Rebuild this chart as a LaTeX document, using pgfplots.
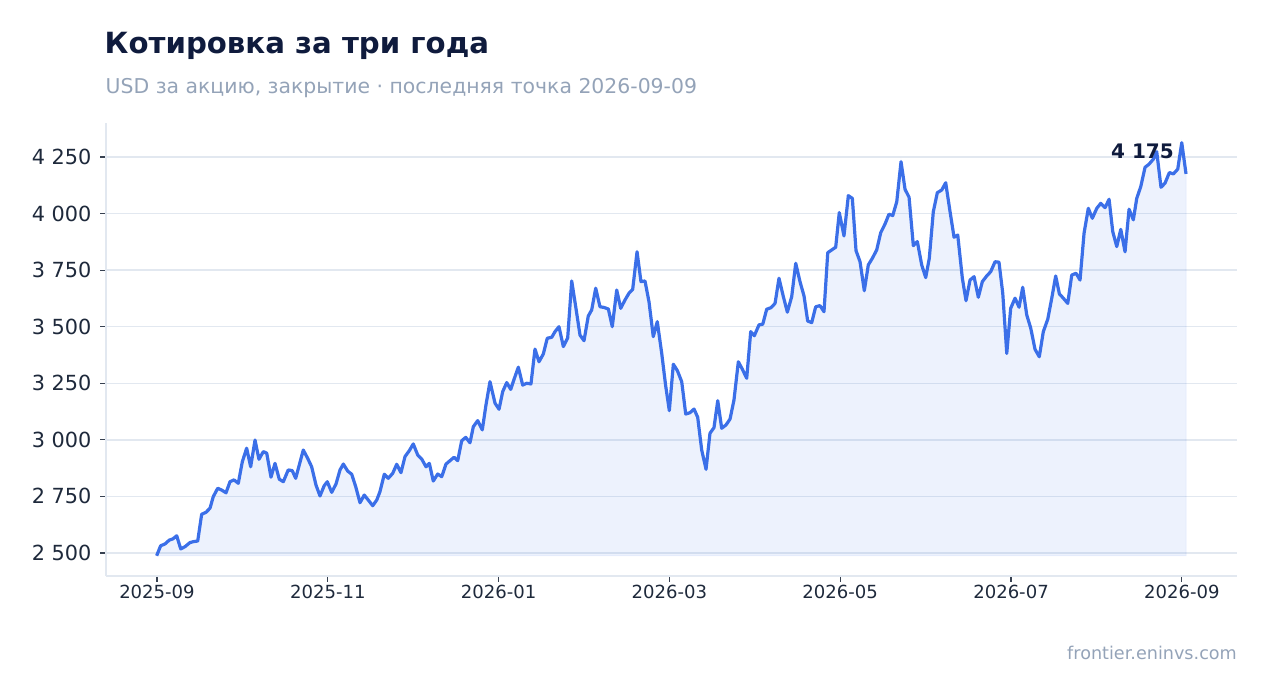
\documentclass[border=0pt]{standalone}
\usepackage{fontspec}
\setmainfont{DejaVu Sans}
\usepackage{pgfplots}
\usepackage{pgfplotstable}
\pgfplotsset{compat=1.18}

\definecolor{lineblue}{RGB}{59,111,232}
\definecolor{titlec}{RGB}{15,27,61}
\definecolor{subc}{RGB}{148,163,184}
\definecolor{gridc}{RGB}{226,232,240}
\definecolor{labelc}{RGB}{30,41,59}
\definecolor{tickc}{RGB}{55,65,81}

% x = months since 2025-09, y = USD
\pgfplotstableread{
x y
-0.004 2488
0.043 2532
0.094 2540
0.144 2557
0.184 2562
0.231 2576
0.278 2518
0.328 2528
0.386 2546
0.425 2550
0.477 2553
0.523 2671
0.574 2680
0.621 2698
0.659 2749
0.711 2786
0.758 2778
0.808 2766
0.855 2815
0.902 2823
0.952 2808
0.999 2903
1.050 2963
1.097 2881
1.148 2999
1.194 2914
1.245 2948
1.285 2941
1.335 2835
1.382 2896
1.432 2826
1.479 2815
1.537 2867
1.584 2864
1.624 2830
1.669 2893
1.713 2955
1.765 2918
1.811 2881
1.862 2800
1.909 2752
1.956 2796
1.994 2815
2.046 2768
2.096 2805
2.143 2867
2.182 2893
2.233 2862
2.280 2848
2.327 2793
2.377 2722
2.427 2756
2.474 2734
2.526 2709
2.573 2734
2.611 2771
2.662 2848
2.708 2830
2.760 2852
2.807 2892
2.857 2855
2.904 2926
2.954 2952
3.001 2982
3.053 2933
3.100 2915
3.150 2881
3.189 2896
3.235 2818
3.287 2849
3.334 2837
3.384 2893
3.431 2908
3.478 2923
3.521 2908
3.568 2996
3.615 3011
3.665 2987
3.704 3058
3.755 3085
3.809 3044
3.852 3154
3.899 3257
3.958 3162
4.005 3135
4.048 3213
4.095 3253
4.142 3223
4.186 3273
4.231 3321
4.282 3242
4.329 3250
4.379 3247
4.426 3401
4.473 3345
4.523 3379
4.570 3449
4.622 3453
4.660 3478
4.707 3500
4.758 3412
4.809 3451
4.856 3702
4.903 3588
4.953 3463
5.000 3438
5.050 3547
5.090 3574
5.137 3670
5.187 3588
5.234 3585
5.285 3578
5.331 3500
5.383 3662
5.430 3581
5.480 3618
5.527 3648
5.570 3665
5.621 3831
5.667 3699
5.714 3702
5.761 3610
5.811 3456
5.858 3522
5.910 3382
5.955 3242
5.999 3129
6.046 3334
6.093 3306
6.144 3257
6.191 3114
6.241 3120
6.288 3136
6.331 3100
6.378 2955
6.429 2870
6.475 3029
6.522 3054
6.566 3173
6.612 3051
6.663 3066
6.710 3092
6.756 3176
6.807 3345
6.854 3312
6.905 3272
6.952 3478
6.994 3460
7.049 3508
7.093 3511
7.139 3577
7.190 3584
7.237 3603
7.283 3714
7.334 3633
7.381 3564
7.432 3633
7.479 3780
7.529 3699
7.576 3636
7.619 3525
7.666 3518
7.713 3588
7.763 3593
7.810 3566
7.854 3827
7.900 3839
7.947 3851
7.989 4004
8.044 3901
8.095 4079
8.142 4067
8.185 3836
8.232 3787
8.282 3659
8.329 3773
8.376 3802
8.427 3839
8.474 3915
8.525 3954
8.571 3997
8.615 3991
8.662 4052
8.712 4229
8.759 4107
8.806 4072
8.856 3858
8.903 3876
8.954 3773
9.001 3717
9.043 3802
9.090 4008
9.137 4092
9.189 4104
9.235 4136
9.286 4008
9.333 3895
9.376 3905
9.430 3714
9.473 3615
9.520 3706
9.567 3721
9.617 3630
9.664 3699
9.715 3724
9.762 3743
9.813 3787
9.859 3785
9.903 3648
9.950 3382
9.996 3581
10.047 3626
10.094 3586
10.137 3674
10.184 3552
10.231 3493
10.281 3400
10.331 3367
10.378 3478
10.430 3533
10.477 3626
10.523 3724
10.566 3645
10.612 3626
10.664 3603
10.711 3728
10.761 3736
10.808 3706
10.855 3913
10.905 4023
10.952 3979
11.004 4023
11.051 4045
11.101 4026
11.148 4063
11.191 3920
11.238 3854
11.285 3930
11.335 3831
11.382 4019
11.432 3972
11.472 4067
11.519 4119
11.569 4204
11.616 4218
11.666 4240
11.706 4273
11.756 4116
11.803 4134
11.854 4181
11.901 4175
11.952 4196
11.999 4313
12.049 4175
}\pricedata

\begin{document}
\begin{tikzpicture}
\path[use as bounding box] (0pt,0pt) rectangle (1268pt,693pt);

% title and subtitle
\node[anchor=base west, inner sep=0, text=titlec, font=\fontsize{29.2}{35}\selectfont\bfseries]
  at (104.5pt,639.7pt) {Котировка за три года};
\node[anchor=base west, inner sep=0, text=subc, font=\fontsize{20.4}{24}\selectfont]
  at (105.5pt,599pt) {USD за акцию, закрытие · последняя точка 2026-09-09};
% source
\node[anchor=base east, inner sep=0, text=subc, font=\fontsize{17.6}{21}\selectfont]
  at (1237pt,34pt) {frontier.eninvs.com};

\begin{axis}[
    at={(106pt,117pt)}, anchor=south west,
    scale only axis,
    width=1131pt, height=453pt,
    xmin=-0.597, xmax=12.646,
    ymin=2398.4, ymax=4400,
    axis lines*=left,
    axis line style={draw=gridc, line width=1.6pt, -},
    xtick={0,2,4,6,8,10,12},
    xticklabels={2025-09,2025-11,2026-01,2026-03,2026-05,2026-07,2026-09},
    ytick={2500,2750,3000,3250,3500,3750,4000,4250},
    yticklabels={2 500,2 750,3 000,3 250,3 500,3 750,4 000,4 250},
    tick align=outside,
    major tick length=6pt,
    tick style={draw=tickc, line width=1.2pt},
    xticklabel style={text=labelc, font=\fontsize{18.06}{21}\selectfont},
    yticklabel style={text=labelc, font=\fontsize{20.8}{24}\selectfont, xshift=-5pt},
    ymajorgrids,
    major grid style={draw=gridc, line width=1.5pt},
]
\addplot[fill=lineblue, fill opacity=0.09, draw=lineblue, draw opacity=0.08, line width=1pt]
  table[x=x, y=y] {\pricedata} -- (axis cs:12.049,2488) -- (axis cs:-0.004,2488) -- cycle;
\addplot[draw=lineblue, line width=3.2pt, line join=round, mark=none] table[x=x, y=y] {\pricedata};
\node[anchor=base east, inner sep=0, xshift=-12pt, yshift=15.7pt, text=titlec,
      font=\fontsize{20}{24}\selectfont\bfseries] at (axis cs:12.049,4175) {4 175};
\end{axis}
\end{tikzpicture}
\end{document}
